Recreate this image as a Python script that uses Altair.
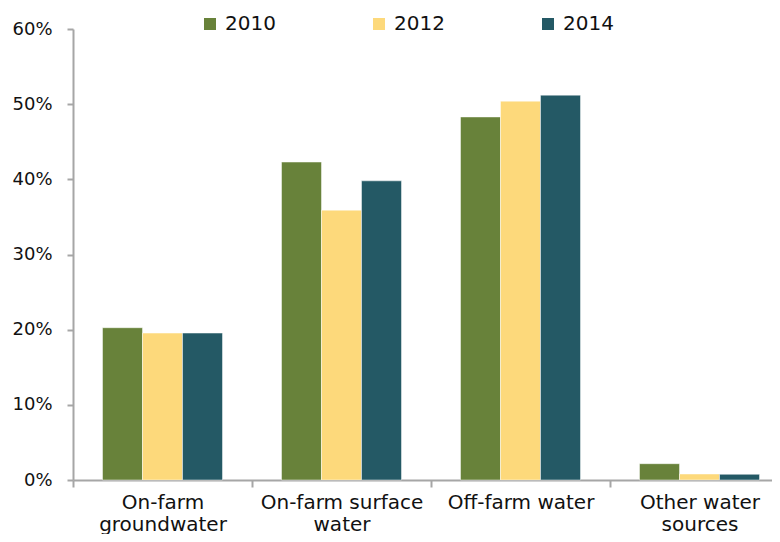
import altair as alt
import pandas as pd

categories = ["On-farm\ngroundwater", "On-farm surface\nwater", "Off-farm water", "Other water\nsources"]
years = ["2010", "2012", "2014"]
v2010 = [0.2026, 0.423, 0.483, 0.0217]
v2012 = [0.1955, 0.359, 0.504, 0.008]
v2014 = [0.1955, 0.398, 0.512, 0.0076]
colors = ["#68823A", "#FDD97B", "#245965"]

rows = []
for yr, vals in zip(years, [v2010, v2012, v2014]):
    for c, v in zip(categories, vals):
        rows.append({"source": c, "year": yr, "share": v})
df = pd.DataFrame(rows)

FONT = "DejaVu Sans"

chart = alt.Chart(df).mark_bar(
    stroke="#ffffff", strokeWidth=0.8, strokeOpacity=0.6
).encode(
    x=alt.X(
        "source:N",
        sort=categories,
        scale=alt.Scale(range=[0, 716], paddingInner=0, paddingOuter=0),
        axis=alt.Axis(
            title=None,
            tickBand="extent",
            labelAngle=0,
            labelExpr="split(datum.label, '\\n')",
            labelFontSize=20,
            labelLineHeight=22,
            labelPadding=5,
            tickSize=7,
            labelColor="#111111",
        ),
    ),
    xOffset=alt.XOffset(
        "year:N", sort=years, scale=alt.Scale(paddingInner=0, paddingOuter=0.7375)
    ),
    y=alt.Y(
        "share:Q",
        scale=alt.Scale(domain=[0, 0.6], nice=False),
        axis=alt.Axis(
            title=None,
            format=".0%",
            values=[0, 0.1, 0.2, 0.3, 0.4, 0.5, 0.6],
            grid=False,
            labelFontSize=18,
            labelPadding=15,
            tickSize=6,
            labelColor="#111111",
        ),
    ),
    color=alt.Color(
        "year:N",
        sort=years,
        scale=alt.Scale(domain=years, range=colors),
        legend=alt.Legend(
            title=None,
            orient="none",
            legendX=127,
            legendY=-15,
            direction="horizontal",
            symbolType="square",
            symbolSize=144,
            symbolStrokeWidth=0,
            symbolOpacity=1,
            labelFontSize=20,
            labelOffset=5,
            columnPadding=93,
            padding=0,
            labelColor="#111111",
        ),
    ),
).properties(
    width=699,
    height=451,
    autosize=alt.AutoSizeParams(type="none"),
    padding={"left": 65, "top": 21, "right": 0, "bottom": 54},
).configure(
    font=FONT
).configure_view(
    stroke=None
).configure_axis(
    domainColor="#A6A6A6",
    tickColor="#A6A6A6",
    domainWidth=2,
    tickWidth=2,
    labelFont=FONT,
).configure_legend(
    labelFont=FONT
)

chart.save("out.html", embed_options={"renderer": "svg", "actions": False})
